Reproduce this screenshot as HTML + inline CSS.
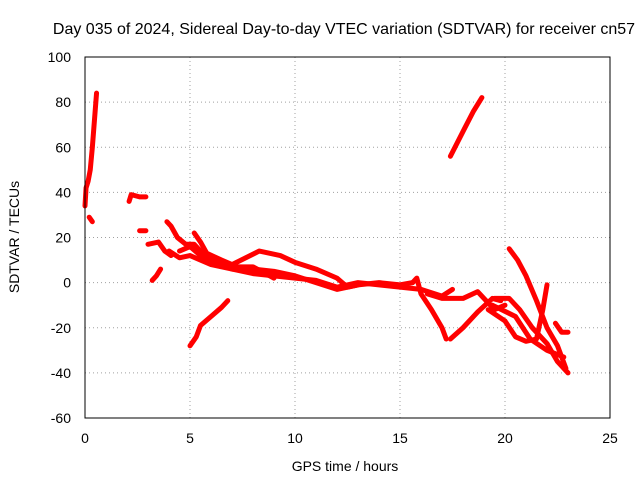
<!DOCTYPE html>
<html><head><meta charset="utf-8"><style>
body{margin:0;background:#fff}
svg text{font-family:"Liberation Sans",sans-serif;font-size:14px;fill:#000}
</style></head><body>
<svg id="chart" width="640" height="480">
<text x="344" y="34" text-anchor="middle" style="font-size:16px">Day 035 of 2024, Sidereal Day-to-day VTEC variation (SDTVAR) for receiver cn57</text>
<text x="345" y="471" text-anchor="middle">GPS time / hours</text>
<text transform="translate(19,237) rotate(-90)" text-anchor="middle">SDTVAR / TECUs</text>
<g id="grid"></g><g id="ticks"></g><g id="marks"></g>
<rect x="85" y="57" width="525" height="361" fill="none" stroke="#000" stroke-width="1"/>
</svg>
<script>
const xTicks=[0,5,10,15,20,25];
const yTicks=[-60,-40,-20,0,20,40,60,80,100];
const track1=[[0,34],[0.05,42],[0.15,45],[0.25,50],[0.35,60],[0.45,72],[0.55,84]];
const track2=[[0.2,29],[0.35,27]];
const track3=[[2.1,36],[2.2,39],[2.6,38],[2.9,38]];
const track4=[[2.6,23],[2.9,23]];
const track5=[[3.0,17],[3.5,18],[3.8,14],[4.1,12]];
const track6=[[3.2,1],[3.4,3],[3.6,6]];
const track7=[[3.9,27],[4.1,25],[4.4,20],[4.8,17],[5.2,17],[5.6,13],[6,10],[6.5,8],[7,6],[8,4],[9,3],[10,2],[11,1],[12,-2],[13,0],[14,-1],[15,-2],[16,-3]];
const track8=[[4,14],[4.5,11],[5,12],[5.5,10],[6,8],[7,6],[8,6],[9,5],[10,3],[11,0],[12,-3],[13,-1]];
const track9=[[5.2,22],[5.5,18],[5.8,13],[6.5,10],[7,8],[8.3,14],[9.3,12],[10,9],[11,6],[12,2],[12.5,-2],[13,-1],[14,0],[15,-1],[15.6,0]];
const track10=[[5,-28],[5.3,-24],[5.5,-19],[6,-15],[6.5,-11],[6.8,-8]];
const track11=[[4.5,14],[5,16],[5.5,12],[6,10],[7,7],[8,7],[9,2]];
const track12=[[17.4,56],[18,67],[18.5,76],[18.9,82]];
const track13=[[15.6,0],[15.8,2],[16,-5],[16.5,-12],[17,-20],[17.2,-25]];
const track14=[[17.4,-25],[18,-20],[18.7,-13],[19.4,-7],[19.8,-8]];
const track15=[[16,-3],[17,-6],[17.5,-3]];
const track16=[[16.3,-5],[17,-7],[18,-7],[18.7,-4],[19,-7],[19.5,-12],[20,-10]];
const track17=[[20.2,15],[20.6,10],[21,3],[21.5,-8],[22,-20],[22.5,-28],[22.9,-38]];
const track18=[[19.2,-12],[20,-17],[20.5,-24],[21,-26],[21.5,-25],[21.8,-12],[22,-1]];
const track19=[[19.5,-7],[20.2,-7],[20.7,-12],[21.3,-20],[22,-27],[22.5,-35],[23,-40]];
const track20=[[22.4,-18],[22.7,-22],[23,-22]];
const track21=[[19.4,-10],[20.5,-15],[21.2,-25],[22,-30],[22.8,-33]];
const tracks=[track1,track2,track3,track4,track5,track6,track7,track8,track9,track10,track11,track12,track13,track14,track15,track16,track17,track18,track19,track20,track21];
const NS='http://www.w3.org/2000/svg';
const X=v=>85+v*21, Y=v=>418-(v+60)*361/160;
const grid=document.getElementById('grid'),ticks=document.getElementById('ticks'),marks=document.getElementById('marks');
xTicks.forEach(t=>{
 if(t>0&&t<25){const l=document.createElementNS(NS,'line');
 
 
 l.setAttribute('x1',X(t));l.setAttribute('x2',X(t));l.setAttribute('y1',57);l.setAttribute('y2',418);
 l.setAttribute('stroke','#a0a0a0');l.setAttribute('stroke-dasharray','1,3');grid.appendChild(l);}
 const tx=document.createElementNS(NS,'text');
 
 
 tx.setAttribute('x',X(t));tx.setAttribute('y',443);tx.setAttribute('text-anchor','middle');tx.textContent=t;ticks.appendChild(tx);
});
yTicks.forEach(t=>{
 if(t>-60&&t<100){const l=document.createElementNS(NS,'line');
 
 
 l.setAttribute('x1',85);l.setAttribute('x2',610);l.setAttribute('y1',Y(t));l.setAttribute('y2',Y(t));
 l.setAttribute('stroke','#a0a0a0');l.setAttribute('stroke-dasharray','1,3');grid.appendChild(l);}
 const tx=document.createElementNS(NS,'text');
 
 
 tx.setAttribute('x',71);tx.setAttribute('y',Y(t)+5);tx.setAttribute('text-anchor','end');tx.textContent=t;ticks.appendChild(tx);
});
tracks.forEach(tr=>{
 const p=document.createElementNS(NS,'polyline');
 
 
 p.setAttribute('points',tr.map(d=>X(d[0])+','+Y(d[1])).join(' '));
 p.setAttribute('fill','none');p.setAttribute('stroke','#ff0000');p.setAttribute('stroke-width','5');
 p.setAttribute('stroke-linejoin','round');p.setAttribute('stroke-linecap','round');
 marks.appendChild(p);
});
</script>
</body></html>
